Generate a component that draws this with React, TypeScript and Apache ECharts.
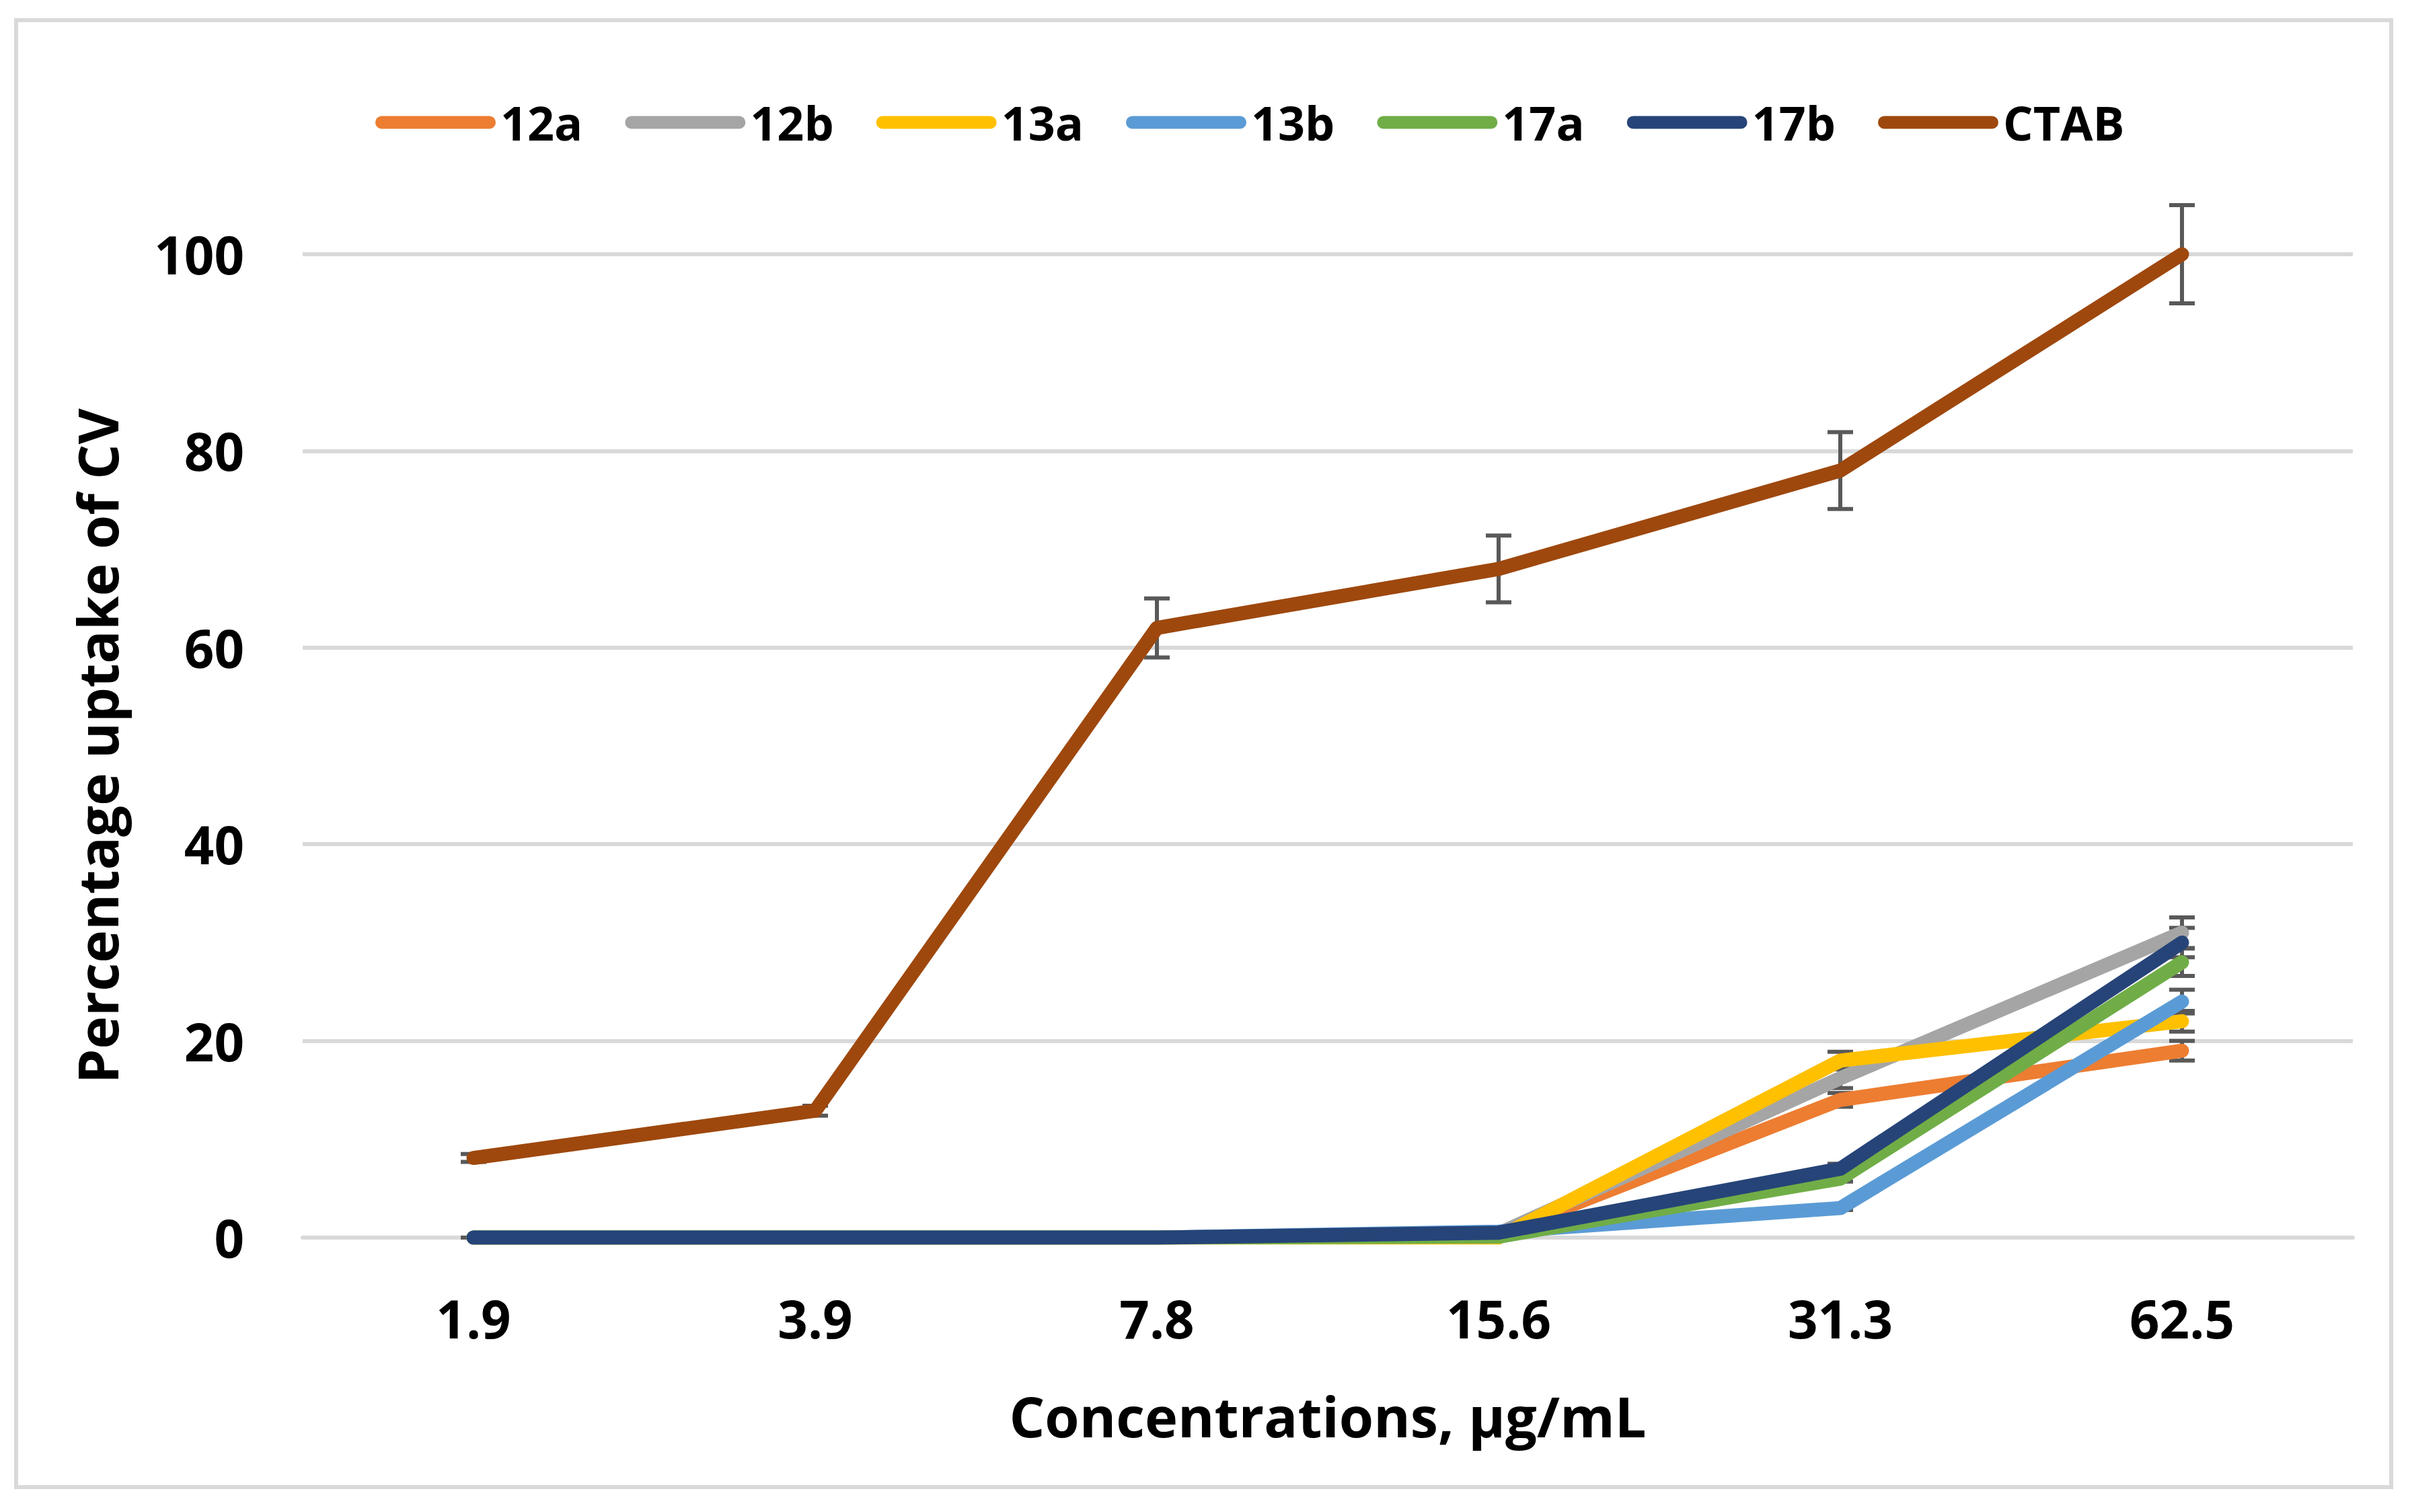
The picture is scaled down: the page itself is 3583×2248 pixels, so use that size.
import React, { useEffect, useRef } from "react";
import * as echarts from "echarts";

const categories = ["1.9", "3.9", "7.8", "15.6", "31.3", "62.5"];
const seriesNames = ["12a", "12b", "13a", "13b", "17a", "17b", "CTAB"];
const seriesColors = ["#ED7D31", "#A5A5A5", "#FFC000", "#5B9BD5", "#70AD47", "#264478", "#9E480E"];

const v12a = [0, 0, 0, 0.4, 14, 19];
const v12b = [0, 0, 0, 0.4, 16.2, 31];
const v13a = [0, 0, 0, 0, 18, 22];
const v13b = [0, 0, 0, 0.6, 3, 24];
const v17a = [0, 0, 0, 0.1, 6, 28];
const v17b = [0, 0, 0, 0.5, 7, 30];
const vCTAB = [8.1, 12.9, 62, 68, 78, 100];

const e12a = [0, 0, 0, 0.2, 0.7, 1.0];
const e12b = [0, 0, 0, 0.2, 1.0, 1.55];
const e13a = [0, 0, 0, 0.2, 0.9, 1.05];
const e13b = [0, 0, 0, 0.2, 0.2, 1.2];
const e17a = [0, 0, 0, 0.2, 0.3, 1.4];
const e17b = [0, 0, 0, 0.2, 0.5, 1.5];
const eCTAB = [0.4, 0.5, 3, 3.4, 3.9, 5];

const yTicks = { min: 0, max: 100, interval: 20 };

const FONT = "'Open Sans', 'Liberation Sans', sans-serif";

const allValues = [v12a, v12b, v13a, v13b, v17a, v17b, vCTAB];
const allErrors = [e12a, e12b, e13a, e13b, e17a, e17b, eCTAB];

function buildOption() {
  const errorSeries = seriesNames.map((name, si) => ({
    name: "err-" + name,
    type: "custom",
    z: 1,
    silent: true,
    encode: { x: 0, y: [1, 2] },
    data: allValues[si].map((v, i) => [i, v - allErrors[si][i], v + allErrors[si][i]]),
    renderItem: (params: any, api: any) => {
      const x = api.value(0);
      const lo = api.coord([x, api.value(1)]);
      const hi = api.coord([x, api.value(2)]);
      const hw = 19;
      const st = { stroke: "#595959", lineWidth: 6 };
      return {
        type: "group",
        children: [
          { type: "line", shape: { x1: lo[0], y1: lo[1], x2: hi[0], y2: hi[1] }, style: st },
          { type: "line", shape: { x1: lo[0] - hw, y1: lo[1], x2: lo[0] + hw, y2: lo[1] }, style: st },
          { type: "line", shape: { x1: hi[0] - hw, y1: hi[1], x2: hi[0] + hw, y2: hi[1] }, style: st },
        ],
      };
    },
  }));

  const lineSeries = seriesNames.map((name, si) => ({
    name,
    type: "line",
    z: 3,
    data: allValues[si],
    symbol: "none",
    showSymbol: false,
    color: seriesColors[si],
    itemStyle: { color: seriesColors[si] },
    lineStyle: { color: seriesColors[si], width: 21, cap: "round", join: "round" },
  }));

  return {
    animation: false,
    backgroundColor: "#ffffff",
    grid: { left: 450, right: 85, top: 378, bottom: 408, containLabel: false },
    legend: {
      data: seriesNames,
      left: 553,
      top: 142,
      itemWidth: 179,
      itemHeight: 19,
      itemGap: 63,
      icon: "path://M9.5,0 L169.5,0 A9.5,9.5 0 0 1 169.5,19 L9.5,19 A9.5,9.5 0 0 1 9.5,0 Z",
      itemStyle: { borderWidth: 0 },
      textStyle: {
        fontFamily: FONT,
        fontWeight: "bold",
        fontSize: 70,
        color: "#000",
        width: 120,
        padding: [0, 0, 0, 2],
      },
    },
    xAxis: {
      type: "category",
      data: categories,
      boundaryGap: true,
      axisTick: { show: false },
      axisLine: { show: true, lineStyle: { color: "#D9D9D9", width: 6 } },
      axisLabel: {
        fontFamily: FONT,
        fontWeight: "bold",
        fontSize: 78,
        color: "#000",
        margin: 81,
      },
      name: "Concentrations, µg/mL",
      nameLocation: "middle",
      nameGap: 222,
      nameTextStyle: { fontFamily: FONT, fontWeight: "bold", fontSize: 83, color: "#000", lineHeight: 84 },
    },
    yAxis: {
      type: "value",
      min: yTicks.min,
      max: yTicks.max,
      interval: yTicks.interval,
      axisLine: { show: false },
      axisTick: { show: false },
      splitLine: { lineStyle: { color: "#D9D9D9", width: 6 } },
      axisLabel: {
        fontFamily: FONT,
        fontWeight: "bold",
        fontSize: 78,
        color: "#000",
        margin: 87,
      },
      name: "Percentage uptake of CV",
      nameLocation: "middle",
      nameGap: 264,
      nameTextStyle: { fontFamily: FONT, fontWeight: "bold", fontSize: 82, color: "#000", lineHeight: 84 },
    },
    graphic: [
      {
        type: "rect",
        shape: { x: 24, y: 30, width: 3531, height: 2181 },
        style: { fill: "none", stroke: "#D9D9D9", lineWidth: 6 },
        silent: true,
        z: -1,
      },
    ],
    series: [...errorSeries, ...lineSeries],
  };
}

export default function App() {
  const ref = useRef<HTMLDivElement>(null);
  useEffect(() => {
    if (!ref.current) return;
    const chart = echarts.init(ref.current, null, { renderer: "svg" });
    chart.setOption(buildOption() as any);
    return () => {
      chart.dispose();
    };
  }, []);
  return (
    <div
      ref={ref}
      style={{ position: "fixed", left: 0, top: 0, width: 3583, height: 2248, background: "#fff" }}
    />
  );
}
